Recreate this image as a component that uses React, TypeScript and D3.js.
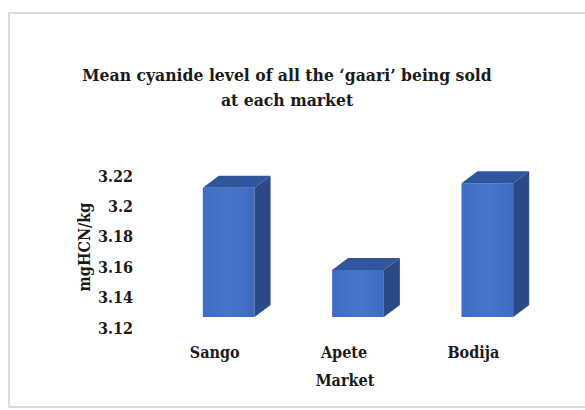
import React from "react";
import * as d3 from "d3";

const markets = ["Sango", "Apete", "Bodija"];
const cyanide = [3.205, 3.151, 3.208];
const yTicks = [3.12, 3.14, 3.16, 3.18, 3.2, 3.22];
const titleLines = ["Mean cyanide level of all the \u2018gaari\u2019 being sold", "at each market"];
const yTitle = "mgHCN/kg";
const xTitle = "Market";

const W = 585;
const H = 410;
const FONT = "'DejaVu Serif Condensed', 'DejaVu Serif', serif";

// 3D projection: depth offset of the back faces, and how far the front floor sits above axis labels
const DEPTH_X = 16;
const DEPTH_Y = -12;
const FRONT_LIFT = 11;

export default function App() {
  const y = d3.scaleLinear().domain([3.12, 3.22]).range([328, 176]);
  const x = d3.scaleBand().domain(markets).range([164, 552]).paddingInner(0.6).paddingOuter(0.3);
  const bw = x.bandwidth();

  return (
    <svg width={W} height={H} style={{ position: "absolute", left: 0, top: 0, background: "#fff" }}>
      <defs>
        <linearGradient id="front" x1="0" x2="1" y1="0" y2="0">
          <stop offset="0" stopColor="#3f6cc2" />
          <stop offset="0.5" stopColor="#4676cc" />
          <stop offset="1" stopColor="#3e6bc0" />
        </linearGradient>
      </defs>
      <rect x={9} y={13} width={W} height={394} fill="#fff" stroke="#cfcfcf" strokeWidth={1.5} />
      <g fontFamily={FONT} fontWeight="bold" fill="#1a1a1a" style={{ fontStretch: "condensed" }}>
        {titleLines.map((t, i) => (
          <text key={i} x={287} y={81 + i * 25} textAnchor="middle" fontSize={17.4}>
            {t}
          </text>
        ))}
        {yTicks.map((t) => (
          <text key={t} x={133} y={y(t)} dy="0.35em" textAnchor="end" fontSize={16}>
            {d3.format("~g")(t)}
          </text>
        ))}
        <text transform={`translate(84,${247}) rotate(-90)`} textAnchor="middle" dy="0.35em" fontSize={16}>
          {yTitle}
        </text>
        {markets.map((m) => (
          <text key={m} x={(x(m) as number) + bw / 2 - 14} y={358} textAnchor="middle" fontSize={16}>
            {m}
          </text>
        ))}
        <text x={345} y={386} textAnchor="middle" fontSize={16}>
          {xTitle}
        </text>
      </g>
      {markets.map((m, i) => {
        const x0 = x(m) as number;
        const x1 = x0 + bw;
        const yb = y(3.12) - FRONT_LIFT;
        const yt = y(cyanide[i]) - FRONT_LIFT;
        const top = `M${x0},${yt} L${x0 + DEPTH_X},${yt + DEPTH_Y} L${x1 + DEPTH_X},${yt + DEPTH_Y} L${x1},${yt} Z`;
        const side = `M${x1},${yt} L${x1 + DEPTH_X},${yt + DEPTH_Y} L${x1 + DEPTH_X},${yb + DEPTH_Y} L${x1},${yb} Z`;
        return (
          <g key={m}>
            <rect x={x0} y={yt} width={bw} height={yb - yt} fill="url(#front)" />
            <path d={top} fill="#2f559c" />
            <path d={side} fill="#294a87" />
          </g>
        );
      })}
    </svg>
  );
}
